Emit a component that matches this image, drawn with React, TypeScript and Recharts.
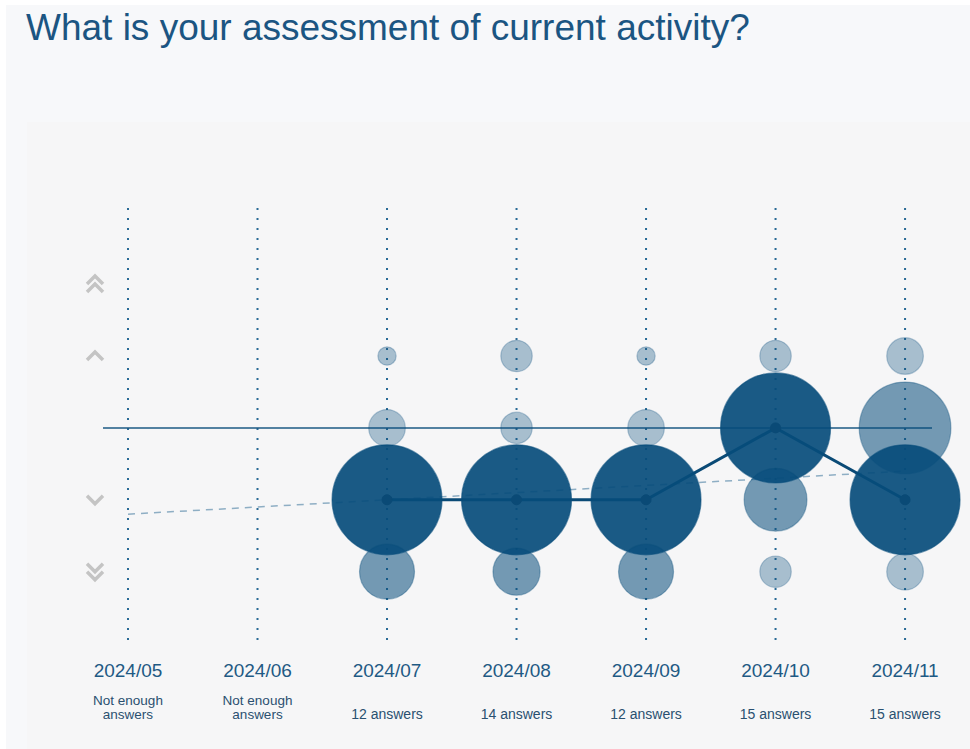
import React from "react"
import { ComposedChart, XAxis, YAxis, Line, Scatter, ReferenceLine } from "recharts"

// months shown along the bottom
const months = ["2024/05", "2024/06", "2024/07", "2024/08", "2024/09", "2024/10", "2024/11"]
const answerNotes = ["Not enough answers", "Not enough answers", "12 answers", "14 answers", "12 answers", "15 answers", "15 answers"]

// answers per assessment level (+2 .. -2), null = not shown
const doubleUp = [null, null, 0, 0, 0, 0, 0]
const up = [null, null, 1, 2, 1, 2, 2]
const neutral = [null, null, 2, 2, 2, 7, 5]
const down = [null, null, 6, 7, 6, 4, 6]
const doubleDown = [null, null, 3, 3, 3, 2, 2]

// most frequent answer, and the dashed trend
const modeLevel = [null, null, -1, -1, -1, 0, -1]
const trend = [-1.2, -1.1, -1.0, -0.9, -0.8, -0.7, -0.6]

const levelTicks = [-2, -1, 1, 2]

const BLUE = "#074c7b"
const MAX_R = 55
const FONT = "Liberation Sans, Arial, sans-serif"

const monthIdx = months.map((_, i) => i)
const lineData = months.map((m, i) => ({ idx: i, month: m, mode: modeLevel[i], trend: trend[i] }))

const bubbleData: any[] = []
months.forEach((m, i) => {
  const col = [
    { level: 2, count: doubleUp[i] },
    { level: 1, count: up[i] },
    { level: 0, count: neutral[i] },
    { level: -1, count: down[i] },
    { level: -2, count: doubleDown[i] },
  ].filter((c) => c.count)
  const sorted = [...col].sort((a, b) => (b.count as number) - (a.count as number))
  const colMax = sorted.length ? (sorted[0].count as number) : 1
  col.forEach((c) => {
    const rank = sorted.indexOf(c)
    bubbleData.push({ idx: i, level: c.level, count: c.count, colMax, rank })
  })
})

const Bubble = (props: any) => {
  const { cx, cy, payload } = props
  if (cx == null || cy == null) return null
  const r = (MAX_R * payload.count) / payload.colMax
  const op = payload.rank === 0 ? 0.92 : payload.rank === 1 ? 0.55 : 0.33
  return (
    <circle cx={cx} cy={cy} r={r} fill={BLUE} fillOpacity={op} stroke={BLUE} strokeOpacity={op * 0.5 + 0.1} strokeWidth={1.2} />
  )
}

const Chevron = ({ x, y, dir, double }: any) => {
  const s = dir === "up" ? -1 : 1
  const one = (oy: number) => `M${x - 8},${y + oy - s * 4} L${x},${y + oy + s * 4} L${x + 8},${y + oy - s * 4}`
  return (
    <g fill="none" stroke="#c4c4c4" strokeWidth={3.5}>
      {double ? (
        <>
          <path d={one(-4)} />
          <path d={one(4)} />
        </>
      ) : (
        <path d={one(0)} />
      )}
    </g>
  )
}

const LevelTick = (props: any) => {
  const { x, y, payload } = props
  const v = payload.value
  return <Chevron x={x - 8} y={y} dir={v > 0 ? "up" : "down"} double={Math.abs(v) === 2} />
}

const MonthTick = (props: any) => {
  const { x, y, payload } = props
  const i = payload.value
  const note = answerNotes[i] || ""
  const words = note.split(" ")
  const twoLines = note.startsWith("Not")
  return (
    <g>
      <text x={x} y={y + 37} textAnchor="middle" fill="#1f5a84" fontSize={19} fontFamily={FONT}>
        {months[i]}
      </text>
      {twoLines ? (
        <text textAnchor="middle" fill="#2a5070" fontSize={13.5} fontFamily={FONT}>
          <tspan x={x} y={y + 65}>{words.slice(0, 2).join(" ")}</tspan>
          <tspan x={x} y={y + 79}>{words.slice(2).join(" ")}</tspan>
        </text>
      ) : (
        <text x={x} y={y + 79} textAnchor="middle" fill="#2a5070" fontSize={14} fontFamily={FONT}>
          {note}
        </text>
      )}
    </g>
  )
}

export default function App() {
  return (
    <div style={{ position: "absolute", left: 0, top: 0, width: 970, height: 749, background: "#ffffff", overflow: "hidden" }}>
      <div style={{ position: "absolute", left: 6, top: 5, width: 964, height: 744, background: "#f7f8fa" }} />
      <div style={{ position: "absolute", left: 27, top: 122, width: 943, height: 627, background: "#f6f6f7" }} />
      <div
        style={{
          position: "absolute",
          left: 26,
          top: 7,
          fontFamily: FONT,
          fontSize: 37,
          color: "#1b5582",
          whiteSpace: "nowrap",
        }}
      >
        What is your assessment of current activity?
      </div>
      <div style={{ position: "absolute", left: 0, top: 0 }}>
        <ComposedChart width={970} height={749} data={lineData} margin={{ top: 205, right: 38, bottom: 19, left: 0 }}>
          <XAxis
            dataKey="idx"
            type="number"
            domain={[-0.193, 6.208]}
            ticks={monthIdx}
            axisLine={false}
            tickLine={false}
            tickSize={0}
            tickMargin={0}
            height={90}
            interval={0}
            tick={<MonthTick />}
          />
          <YAxis
            type="number"
            domain={[-2.95, 3.1]}
            ticks={levelTicks}
            axisLine={false}
            tickLine={false}
            tickSize={0}
            tickMargin={0}
            width={103}
            tick={<LevelTick />}
          />
          {monthIdx.map((i) => (
            <ReferenceLine key={i} x={i} stroke="#2a6a95" strokeWidth={2} strokeDasharray="2 8" />
          ))}
          <Line
            type="linear"
            dataKey="trend"
            stroke="#8eaec4"
            strokeWidth={1.5}
            strokeDasharray="7 6"
            dot={false}
            activeDot={false}
            isAnimationActive={false}
          />
          <Scatter data={bubbleData} dataKey="level" shape={<Bubble />} isAnimationActive={false} />
          <ReferenceLine y={0} stroke="#1d5a85" strokeWidth={1.5} />
          <Line
            type="linear"
            dataKey="mode"
            stroke="#0a4a76"
            strokeWidth={3}
            dot={{ r: 5, fill: "#0a4a76", stroke: "#0a4a76", strokeWidth: 1 }}
            activeDot={false}
            isAnimationActive={false}
          />
        </ComposedChart>
      </div>
    </div>
  )
}
